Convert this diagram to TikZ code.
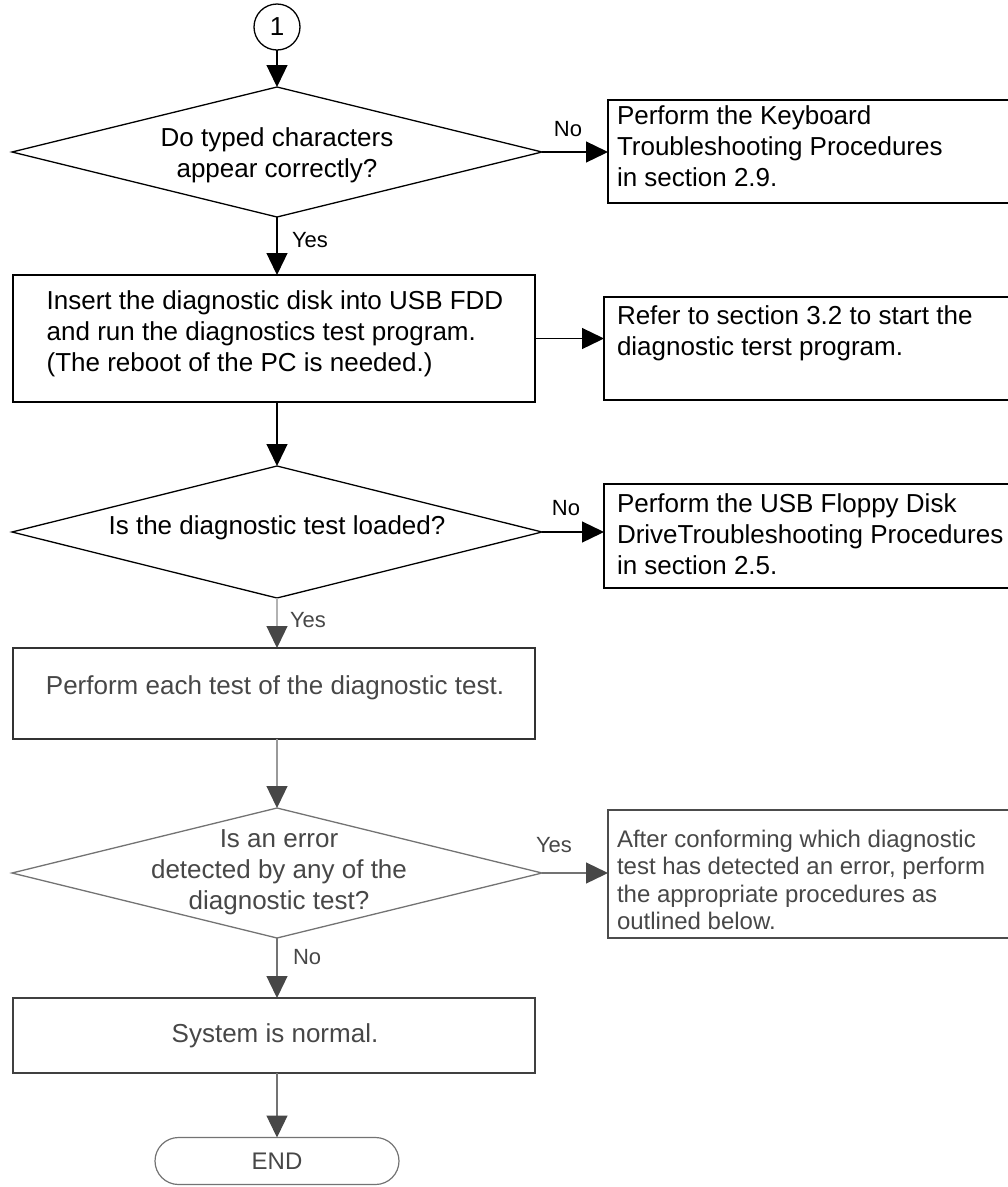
\documentclass[tikz,border=0pt]{standalone}
\usepackage{fontspec}
\setmainfont{Liberation Sans}
\usetikzlibrary{shapes.geometric,shapes.misc,arrows.meta}
\begin{document}
\begin{tikzpicture}[x=1pt,y=-1pt,
  every node/.style={outer sep=0pt},
  bx/.style={draw, line width=1.3pt, rectangle, inner sep=0pt, anchor=north west},
  dm/.style={draw, line width=1.3pt, diamond, inner sep=0pt},
  txt/.style={font=\fontsize{26}{31}\selectfont, align=center, inner sep=0pt},
  ltxt/.style={font=\fontsize{26}{31}\selectfont, align=left, inner sep=0pt, anchor=north west},
  lab/.style={font=\fontsize{22}{26}\selectfont, inner sep=0pt},
  arr/.style={line width=1.3pt, -{Triangle[length=22pt,width=21pt]}},
  garr/.style={line width=1.3pt, draw=black!55, -{Triangle[length=22pt,width=21pt,color=black!72]}},
  gtext/.style={text=black!72},
]
\useasboundingbox (0,0) rectangle (1008,1187);

% start connector
\node[draw, circle, line width=1.3pt, minimum size=46pt, inner sep=0pt,
      font=\fontsize{26}{31}\selectfont] (c1) at (277,27) {1};

% decision 1
\node[dm, minimum width=530pt, minimum height=130pt] (d1) at (277,152) {};
\node[txt] (t1) at (277,155) {Do typed characters\\appear correctly?};

% keyboard box
\node[bx, minimum width=404pt, minimum height=103pt] (b1) at (608,100) {};
\node[ltxt] (bt1) at (617,106) {Perform the Keyboard\\Troubleshooting Procedures\\in section 2.9.};

% insert disk box
\node[bx, minimum width=522pt, minimum height=127pt] (b2) at (13,275) {};
\node[ltxt, anchor=center] (t2) at (275,334) {Insert the diagnostic disk into USB FDD\\and run the diagnostics test program.\\(The reboot of the PC is needed.)};

% refer box
\node[bx, minimum width=408pt, minimum height=103pt] (b3) at (604,297) {};
\node[ltxt] (bt3) at (617,306) {Refer to section 3.2 to start the\\diagnostic terst program.};

% decision 2
\node[dm, minimum width=530pt, minimum height=132pt] (d2) at (277,532) {};
\node[txt] (t3) at (277,528) {Is the diagnostic test loaded?};

% floppy box
\node[bx, minimum width=408pt, minimum height=104pt] (b4) at (604,484) {};
\node[ltxt] (bt4) at (617,494) {Perform the USB Floppy Disk\\DriveTroubleshooting Procedures\\in section 2.5.};

% perform each test
\node[bx, draw=black!80, minimum width=522pt, minimum height=91pt] (b5) at (13,648) {};
\node[txt, gtext] (t5) at (275,688) {Perform each test of the diagnostic test.};

% decision 3
\node[dm, draw=black!55, minimum width=530pt, minimum height=130pt] (d3) at (277,873) {};
\node[txt, gtext] (t6) at (279,872) {Is an error\\detected by any of the\\diagnostic test?};

% after conforming box
\node[bx, draw=black!70, minimum width=404pt, minimum height=128pt] (b6) at (608,810) {};
\node[ltxt, gtext, font=\fontsize{24}{27.5}\selectfont] (bt6) at (617,830) {After conforming which diagnostic\\test has detected an error, perform\\the appropriate procedures as\\outlined below.};

% system normal
\node[bx, draw=black!75, minimum width=522pt, minimum height=75pt] (b7) at (13,998) {};
\node[txt, gtext] (t7) at (275,1036) {System is normal.};

% end terminal
\node[draw=black!55, line width=1.2pt, rounded rectangle, minimum width=244pt,
      minimum height=47pt, inner sep=0pt, font=\fontsize{24}{28}\selectfont,
      text=black!72] (e) at (277,1161) {END};

% connectors
\draw[arr] (c1.south) -- (d1.north);
\draw[arr] (d1.east) -- (d1.east -| b1.west);
\node[lab] (l1) at (568,129) {No};
\draw[arr] (d1.south) -- (b2.north -| d1.south);
\node[lab, anchor=west] (l2) at (292,240) {Yes};
\draw[arr] (b2.east) -- (b2.east -| b3.west);
\draw[arr] (b2.south -| d1.south) -- (d2.north);
\draw[arr] (d2.east) -- (d2.east -| b4.west);
\node[lab] (l3) at (566,508) {No};
\draw[garr, draw=black!30] (d2.south) -- (b5.north -| d2.south);
\node[lab, anchor=west, gtext] (l4) at (290,620) {Yes};
\draw[garr, draw=black!40] (b5.south -| d2.south) -- (d3.north);
\draw[garr] (d3.east) -- (d3.east -| b6.west);
\node[lab, gtext] (l5) at (554,845) {Yes};
\draw[garr] (d3.south) -- (b7.north -| d3.south);
\node[lab, anchor=west, gtext] (l6) at (293,957) {No};
\draw[garr] (b7.south -| d3.south) -- (e.north);
\end{tikzpicture}
\end{document}
